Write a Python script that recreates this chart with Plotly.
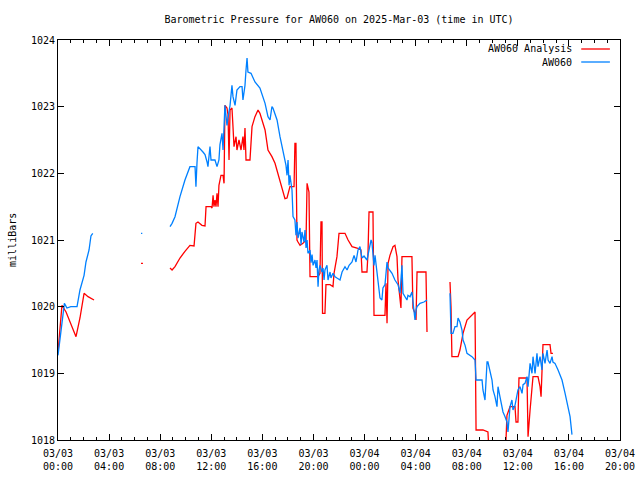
import plotly.graph_objects as go

# Hours since 2025-03-03 00:00 UTC
x_ticks = [0, 4, 8, 12, 16, 20, 24, 28, 32, 36, 40, 44]
x_tick_labels = ["03/03<br>00:00", "03/03<br>04:00", "03/03<br>08:00", "03/03<br>12:00",
                 "03/03<br>16:00", "03/03<br>20:00", "03/04<br>00:00", "03/04<br>04:00",
                 "03/04<br>08:00", "03/04<br>12:00", "03/04<br>16:00", "03/04<br>20:00"]
y_ticks = [1018, 1019, 1020, 1021, 1022, 1023, 1024]

# AW060 observations (hours, millibars); None = gap
obs_hours = [
    0, 0.3, 0.5, 0.7, 1.0, 1.49, 1.72, 2.04, 2.19, 2.43, 2.58, 2.72, None,
    6.5, 6.6, None,
    8.77, 8.93, 9.16, 9.55, 9.94, 10.33, 10.73, 10.80, 10.88, 10.96, 11.35, 11.51, 11.67, 11.74,
    11.90, 11.98, 12.29, 12.45, 12.60, 12.68, 12.84, 12.92, 13.07, 13.23, 13.31, 13.47, 13.62,
    13.70, 13.86, 14.01, 14.25, 14.41, 14.48, 14.64, 14.72, 14.80, 14.87, 15.11, 15.42, 15.81,
    16.21, 16.44, 16.60, 16.75, 16.83, 17.15, 17.38, 17.62, 17.85, 17.93, 18.01, 18.09, 18.16,
    18.32, 18.40, 18.55, 18.63, 18.71, 18.79, 18.95, 19.03, 19.10, 19.26, 19.34, 19.42, 19.50,
    19.57, 19.73, 19.81, 19.89, 19.97, 20.12, 20.20, 20.28, 20.36, 20.43, 20.51, 20.67, 20.75,
    20.83, 20.90, 21.06, 21.14, 21.30, 21.37, 21.53, 21.69, 21.84, 22.08, 22.24, 22.47, 22.63,
    22.79, 23.02, 23.18, 23.33, 23.49, 23.64, 23.80, 23.96, 24.19, 24.35, 24.51, 24.58, 24.66,
    24.74, 24.82, 24.98, 25.05, 25.21, 25.36, 25.44, 25.60, 25.68, 25.76, 25.84, 26.15, 26.38,
    26.62, 26.78, 26.85, 26.93, 27.01, 27.17, 27.32, 27.40, 27.56, 27.71, 27.79, 27.95, 28.03,
    28.11, 28.34, 28.65, 28.89, None,
    30.69, 30.73, 30.77, 30.92, 31.08, 31.24, 31.32, 31.47, 31.63, 31.71, 31.87, 32.02, 32.41,
    32.65, 32.73, 33.20, 33.27, 33.43, 33.51, 33.59, 33.66, 33.82, 33.98, 34.06, 34.21, 34.37,
    34.45, 34.60, 34.76, 34.84, 35.00, 35.15, 35.23, 35.31, 35.39, 35.54, 35.62, 35.78, 35.94,
    36.01, 36.17, 36.33, 36.41, 36.56, 36.72, 36.80, 36.96, 37.11, 37.19, 37.35, 37.50, 37.58,
    37.74, 37.89, 37.97, 38.13, 38.29, 38.37, 38.52, 38.68, 38.75, 38.91, 39.15, 39.46, 39.70,
    39.93, 40.09, 40.24,
]
obs_mbar = [
    1019.27, 1019.7, 1020.05, 1019.98, 1020.0, 1020.0, 1020.25, 1020.47, 1020.67, 1020.85, 1021.06, 1021.1, None,
    1021.1, 1021.1, None,
    1021.2, 1021.25, 1021.35, 1021.65, 1021.9, 1022.1, 1022.1, 1021.8, 1022.15, 1022.4, 1022.32, 1022.28, 1022.17, 1022.1,
    1022.4, 1022.2, 1022.2, 1022.1, 1022.2, 1022.43, 1022.6, 1022.35, 1023.02, 1022.72, 1022.83, 1023.02, 1023.32,
    1023.15, 1023.02, 1023.25, 1023.3, 1023.3, 1023.1, 1023.32, 1023.55, 1023.73, 1023.52, 1023.5, 1023.37, 1023.28,
    1023.05, 1022.85, 1022.8, 1023.0, 1022.98, 1022.8, 1022.55, 1022.35, 1022.12, 1021.97, 1022.2, 1021.82, 1021.97,
    1021.75, 1021.35, 1021.3, 1021.07, 1021.27, 1021.03, 1021.18, 1020.93, 1021.12, 1020.97, 1021.15, 1020.88, 1021.0,
    1020.8, 1020.85, 1020.66, 1020.78, 1020.62, 1020.7, 1020.58, 1020.7, 1020.3, 1020.55, 1020.62, 1020.52, 1020.58,
    1020.4, 1020.55, 1020.62, 1020.4, 1020.52, 1020.43, 1020.5, 1020.45, 1020.43, 1020.4, 1020.52, 1020.6, 1020.55,
    1020.62, 1020.67, 1020.77, 1020.67, 1020.85, 1020.9, 1020.73, 1020.76, 1020.7, 1020.85, 1021.0, 1020.96, 1020.82,
    1020.62, 1020.77, 1020.52, 1020.32, 1020.13, 1020.1, 1020.28, 1020.33, 1020.55, 1020.67, 1020.58, 1020.5, 1020.4,
    1020.33, 1020.2, 1020.47, 1020.62, 1020.2, 1020.15, 1020.1, 1020.17, 1020.15, 1020.22, 1020.05, 1019.8, 1019.95,
    1020.0, 1020.05, 1020.07, 1020.1, None,
    1020.2, 1019.8, 1019.6, 1019.6, 1019.7, 1019.7, 1019.83, 1019.77, 1019.65, 1019.5, 1019.42, 1019.3, 1019.25,
    1019.2, 1018.9, 1018.9, 1018.75, 1018.6, 1018.83, 1019.17, 1019.17, 1019.05, 1018.9, 1018.75, 1018.65, 1018.5,
    1018.8, 1018.65, 1018.5, 1018.42, 1018.35, 1018.27, 1018.12, 1018.4, 1018.5, 1018.6, 1018.45, 1018.52, 1018.65,
    1018.75, 1018.8, 1018.7, 1018.83, 1018.85, 1018.95, 1018.8, 1019.15, 1019.0, 1019.25, 1019.0, 1019.3, 1019.1,
    1019.25, 1019.05, 1019.3, 1019.15, 1019.35, 1019.2, 1019.15, 1019.25, 1019.17, 1019.15, 1019.05, 1018.9, 1018.7,
    1018.52, 1018.35, 1018.08,
]

# AW060 Analysis (hours, millibars); None = gap
ana_hours = [
    0, 0.16, 0.31, 0.63, 0.94, 1.41, 1.72, 2.04, 2.35, 2.82, None,
    6.5, 6.65, None,
    8.77, 8.93, 9.16, 9.55, 9.94, 10.33, 10.65, 10.73, 10.80, 10.96, 11.27, 11.51, 11.59, 11.98,
    12.06, 12.14, 12.21, 12.29, 12.37, 12.45, 12.53, 12.60, 12.76, 12.92, 13.00, 13.07, 13.23,
    13.31, 13.39, 13.47, 13.62, 13.70, 13.78, 13.94, 14.01, 14.17, 14.33, 14.48, 14.56, 14.64,
    14.72, 15.03, 15.19, 15.42, 15.66, 15.81, 16.05, 16.21, 16.44, 16.75, 16.99, 17.22, 17.54,
    17.77, 17.93, 18.01, 18.16, 18.48, 18.55, 18.63, 18.71, 18.79, 18.95, 19.18, 19.42, 19.50,
    19.57, 19.65, 19.73, 20.36, 20.51, 20.59, 20.67, 20.71, 20.90, 20.98, 21.30, 21.53, 21.61,
    21.84, 22.00, 22.47, 22.71, 23.02, 23.41, 23.72, 23.80, 24.19, 24.27, 24.35, 24.66, 24.74,
    25.60, 25.68, 25.76, 25.84, 25.99, 26.23, 26.38, 26.54, 26.62, 26.78, 26.85, 26.93, 27.71,
    27.79, 27.95, 28.03, 28.11, 28.81, 28.89, None,
    30.69, 30.77, 30.84, 31.32, 31.47, 31.71, 32.02, 32.25, 32.49, 32.65, 32.73, 33.27, 33.66,
    33.74, 34.76, 34.84, 35.07, 35.15, 35.39, 35.78, 35.86, 36.01, 36.09, 36.72, 36.80, 36.88,
    36.96, 37.11, 37.19, 37.58, 37.74, 37.82, 37.89, 37.97, 38.52, 38.60, 38.75,
]
ana_mbar = [
    1019.32, 1019.65, 1020.02, 1019.92, 1019.77, 1019.55, 1019.83, 1020.2, 1020.15, 1020.1, None,
    1020.65, 1020.65, None,
    1020.58, 1020.55, 1020.6, 1020.73, 1020.83, 1020.92, 1020.91, 1021.05, 1021.25, 1021.27, 1021.22, 1021.21, 1021.5, 1021.5,
    1021.48, 1021.67, 1021.5, 1021.6, 1021.5, 1021.7, 1021.5, 1021.82, 1021.97, 1021.97, 1021.85, 1023.02, 1022.98,
    1022.88, 1022.2, 1022.95, 1022.98, 1022.7, 1022.4, 1022.55, 1022.35, 1022.5, 1022.35, 1022.55, 1022.35, 1022.68,
    1022.2, 1022.2, 1022.7, 1022.85, 1022.95, 1022.9, 1022.75, 1022.65, 1022.35, 1022.25, 1022.15, 1022.0, 1021.8,
    1021.62, 1021.63, 1021.7, 1021.8, 1021.8, 1022.45, 1022.45, 1021.0, 1020.97, 1020.92, 1020.95, 1021.0, 1021.85,
    1021.75, 1021.72, 1020.45, 1020.45, 1020.5, 1021.27, 1021.27, 1019.9, 1019.9, 1020.33, 1020.33, 1020.3, 1020.5,
    1020.75, 1021.1, 1021.1, 1021.0, 1020.9, 1020.88, 1020.85, 1020.52, 1020.52, 1020.8, 1021.42, 1021.42, 1019.87,
    1019.87, 1020.35, 1019.75, 1020.65, 1020.77, 1020.9, 1020.92, 1020.75, 1020.4, 1020.15, 1019.98, 1020.75, 1020.75,
    1019.98, 1019.9, 1019.8, 1020.52, 1020.52, 1019.62, None,
    1020.37, 1019.99, 1019.25, 1019.25, 1019.35, 1019.6, 1019.8, 1019.85, 1019.9, 1019.92, 1018.15, 1018.15, 1018.12,
    1017.85, 1017.85, 1017.98, 1017.98, 1018.37, 1018.5, 1018.5, 1018.27, 1018.27, 1018.93, 1018.93, 1018.05, 1018.3,
    1018.45, 1018.78, 1018.95, 1018.95, 1018.8, 1018.65, 1019.15, 1019.43, 1019.43, 1019.3, 1019.3,
]

series_names = ["AW060 Analysis", "AW060"]
series_colors = ["#ff0000", "#0080ff"]

FONT = "DejaVu Sans Mono"

fig = go.Figure()
fig.add_trace(go.Scatter(x=ana_hours, y=ana_mbar, mode="lines", name=series_names[0],
                         line=dict(color=series_colors[0], width=1.3), connectgaps=False,
                         showlegend=False))
fig.add_trace(go.Scatter(x=obs_hours, y=obs_mbar, mode="lines", name=series_names[1],
                         line=dict(color=series_colors[1], width=1.3), connectgaps=False,
                         showlegend=False))

# gnuplot-style key: right-aligned text followed by a line sample
key_y = [0.9775, 0.945]
for name, color, ky in zip(series_names, series_colors, key_y):
    fig.add_annotation(text=name, xref="paper", yref="paper", x=0.918, y=ky,
                       xanchor="right", yanchor="middle", showarrow=False,
                       font=dict(family=FONT, size=10, color="black"))
    fig.add_shape(type="line", xref="paper", yref="paper", x0=0.931, x1=0.982, y0=ky, y1=ky,
                  line=dict(color=color, width=1.3))

fig.add_annotation(text="milliBars", xref="paper", yref="paper", x=-0.082, y=0.5,
                   textangle=-90, showarrow=False, xanchor="center", yanchor="middle",
                   font=dict(family=FONT, size=10, color="black"))

fig.update_layout(
    width=640, height=480,
    margin=dict(l=58, r=20, t=40, b=40, autoexpand=False),
    paper_bgcolor="white", plot_bgcolor="white",
    font=dict(family=FONT, size=10, color="black"),
    title=dict(text="Barometric Pressure for AW060 on 2025-Mar-03 (time in UTC)",
               x=0.5, xref="paper", y=1 - 19 / 480, yref="container",
               xanchor="center", yanchor="middle",
               font=dict(family=FONT, size=10, color="black")),
    showlegend=False,
)
fig.update_xaxes(range=[0, 44], tickmode="array", tickvals=x_ticks, ticktext=x_tick_labels,
                 ticks="inside", ticklen=6, tickcolor="black", showgrid=False, zeroline=False,
                 showline=True, linecolor="black", linewidth=1, mirror="allticks",
                 automargin=False, ticklabelstandoff=4,
                 minor=dict(ticks="inside", tickmode="linear", tick0=0, dtick=1, ticklen=3,
                            tickcolor="black", showgrid=False),
                 tickfont=dict(family=FONT, size=10, color="black"))
fig.update_yaxes(range=[1018, 1024], tickmode="array", tickvals=y_ticks,
                 ticktext=[str(v) for v in y_ticks], automargin=False,
                 ticks="inside", ticklen=6, tickcolor="black", showgrid=False, zeroline=False,
                 showline=True, linecolor="black", linewidth=1, mirror="allticks",
                 tickfont=dict(family=FONT, size=10, color="black"))

fig.write_html("out.html", config={"displayModeBar": False},
               post_script="document.body.style.margin='0px';document.body.style.padding='0px';")
